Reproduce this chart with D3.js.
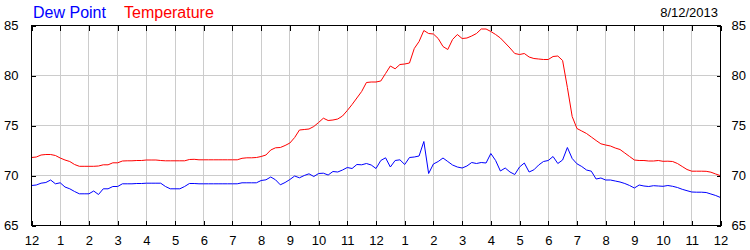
<!DOCTYPE html>
<html>
<head>
<meta charset="utf-8">
<script src="https://cdn.jsdelivr.net/npm/d3@7"></script>
<style>
  body { margin: 0; background: #fff; }
  svg { display: block; font-family: Arial, "Liberation Sans", sans-serif; }
</style>
</head>
<body>
<div id="chart"></div>
<script>
// readings every 10 minutes, midnight to midnight
const stepMinutes = 10;

const temperature = [
  71.8, 71.85, 72.05, 72.1, 72.1, 72.0, 71.75, 71.55, 71.4, 71.1,
  70.92, 70.92, 70.92, 70.92, 70.95, 71.07, 71.07, 71.27, 71.27, 71.45,
  71.47, 71.47, 71.5, 71.5, 71.55, 71.55, 71.55, 71.5, 71.47, 71.47,
  71.47, 71.47, 71.47, 71.6, 71.62, 71.57, 71.57, 71.57, 71.57, 71.57,
  71.57, 71.57, 71.57, 71.57, 71.72, 71.77, 71.77, 71.8, 71.9, 72.05,
  72.55, 72.77, 72.8, 73.0, 73.25, 73.8, 74.55, 74.6, 74.65, 74.9,
  75.3, 75.73, 75.5, 75.55, 75.65, 75.95, 76.5, 77.1, 77.75, 78.4,
  79.3, 79.35, 79.35, 79.45, 80.2, 80.95, 80.67, 81.1, 81.15, 81.25,
  82.7, 83.4, 84.5, 84.2, 84.15, 83.7, 82.9, 82.6, 83.6, 84.1,
  83.7, 83.75, 83.95, 84.2, 84.65, 84.65, 84.4, 84.1, 83.75, 83.25,
  82.75, 82.2, 82.1, 82.2, 81.85, 81.7, 81.65, 81.6, 81.6, 81.9,
  81.95, 81.5, 78.8, 75.9, 74.7, 74.45, 74.2, 73.85, 73.5, 73.17,
  73.05, 72.95, 72.75, 72.6, 72.25, 71.9, 71.55, 71.5, 71.5, 71.45,
  71.45, 71.5, 71.42, 71.43, 71.4, 71.2, 70.9, 70.6, 70.43, 70.43,
  70.43, 70.42, 70.33, 70.15, 69.98
];

const dewPoint = [
  69.0, 69.05, 69.23, 69.3, 69.55, 69.17, 69.27, 68.85, 68.67, 68.4,
  68.17, 68.17, 68.17, 68.45, 68.1, 68.67, 68.67, 68.9, 68.9, 69.17,
  69.17, 69.17, 69.2, 69.2, 69.23, 69.23, 69.23, 69.23, 68.9, 68.67,
  68.67, 68.67, 68.9, 69.2, 69.2, 69.17, 69.17, 69.17, 69.17, 69.17,
  69.17, 69.17, 69.17, 69.17, 69.27, 69.27, 69.27, 69.27, 69.5, 69.57,
  69.85, 69.57, 69.07, 69.3, 69.6, 69.95, 69.77, 70.0, 70.17, 69.9,
  70.2, 70.23, 70.05, 70.4, 70.35, 70.55, 70.8, 70.7, 71.1, 71.07,
  71.2, 71.05, 70.7, 71.5, 71.77, 70.85, 71.5, 71.57, 71.1, 71.8,
  71.85, 71.95, 73.4, 70.2, 71.15, 71.4, 71.75, 71.4, 71.05, 70.85,
  70.75, 70.95, 71.3, 71.2, 71.3, 71.25, 72.2, 71.5, 70.45, 70.75,
  70.35, 70.1, 70.85, 71.25, 70.35, 70.57, 71.05, 71.4, 71.5, 71.9,
  71.2, 71.55, 72.8, 71.7, 71.17, 70.9, 70.55, 70.43, 69.65, 69.75,
  69.55, 69.55, 69.45, 69.35, 69.2, 69.0, 68.75, 69.05, 68.95, 68.9,
  68.98, 68.95, 68.92, 69.0, 68.92, 68.8, 68.62, 68.48, 68.35, 68.33,
  68.33, 68.3, 68.15, 68.0, 67.8
];

const hourLabels = ["12", "1", "2", "3", "4", "5", "6", "7", "8", "9", "10", "11",
                    "12", "1", "2", "3", "4", "5", "6", "7", "8", "9", "10", "11", "12"];
const yTicks = [65, 70, 75, 80, 85];
const dateLabel = "8/12/2013";

const width = 750;
const height = 250;

const svg = d3.select("#chart")
  .append("svg")
  .attr("width", width)
  .attr("height", height);

const x = d3.scaleLinear().domain([0, 24]).range([31.5, 720.5]);
const y = d3.scaleLinear().domain([65, 85]).range([225.5, 25.5]);

const hours = d3.range(0, 25);

//grid
const grid = svg.append("g")
  .attr("stroke", "#cccccc")
  .attr("stroke-width", 1)
  .attr("shape-rendering", "crispEdges");

grid.selectAll("line.v")
  .data(hours.slice(1, -1))
  .enter()
  .append("line")
  .attr("x1", (d) => x(d))
  .attr("x2", (d) => x(d))
  .attr("y1", y(85))
  .attr("y2", y(65));

grid.selectAll("line.h")
  .data(yTicks.slice(1, -1))
  .enter()
  .append("line")
  .attr("x1", x(0))
  .attr("x2", x(24))
  .attr("y1", (d) => y(d))
  .attr("y2", (d) => y(d));

//series
const line = d3.line()
  .x((d, i) => x(i * stepMinutes / 60))
  .y((d) => y(d));

svg.append("path")
  .datum(dewPoint)
  .attr("fill", "none")
  .attr("stroke", "#0000ff")
  .attr("stroke-width", 1)
  .attr("d", line);

svg.append("path")
  .datum(temperature)
  .attr("fill", "none")
  .attr("stroke", "#ff0000")
  .attr("stroke-width", 1)
  .attr("d", line);

//frame + inner ticks
const axisFont = (g) => g.attr("font-size", 13).attr("font-family", null);

svg.append("g")
  .attr("transform", `translate(0,${y(65)})`)
  .call(d3.axisBottom(x).tickValues(hours).tickSize(-5).tickPadding(10)
    .tickFormat((d) => hourLabels[d]))
  .call(axisFont);

svg.append("g")
  .attr("transform", `translate(0,${y(85)})`)
  .call(d3.axisTop(x).tickValues(hours).tickSize(-5).tickFormat(""));

svg.append("g")
  .attr("transform", `translate(${x(0)},0)`)
  .call(d3.axisLeft(y).tickValues(yTicks).tickSize(-4).tickPadding(13))
  .call(axisFont);

svg.append("g")
  .attr("transform", `translate(${x(24)},0)`)
  .call(d3.axisRight(y).tickValues(yTicks).tickSize(-4).tickPadding(11))
  .call(axisFont);

svg.selectAll(".domain").remove();
svg.selectAll(".tick line").attr("stroke", "#000").attr("shape-rendering", "crispEdges");
svg.selectAll(".tick text").attr("fill", "#000");

svg.append("rect")
  .attr("x", x(0))
  .attr("y", y(85))
  .attr("width", x(24) - x(0))
  .attr("height", y(65) - y(85))
  .attr("fill", "none")
  .attr("stroke", "#000")
  .attr("shape-rendering", "crispEdges");

//legend
svg.append("text")
  .attr("x", 33)
  .attr("y", 18)
  .attr("font-size", 16)
  .attr("fill", "#0000ff")
  .text("Dew Point");

svg.append("text")
  .attr("x", 124)
  .attr("y", 18)
  .attr("font-size", 16)
  .attr("fill", "#ff0000")
  .text("Temperature");

svg.append("text")
  .attr("x", 718)
  .attr("y", 17)
  .attr("text-anchor", "end")
  .attr("font-size", 13)
  .attr("fill", "#000")
  .text(dateLabel);
</script>
</body>
</html>
